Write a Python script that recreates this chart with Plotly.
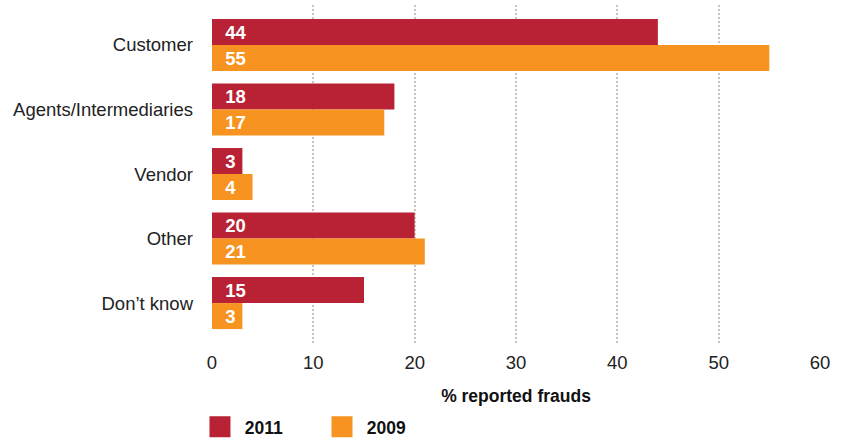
import plotly.graph_objects as go

categories = ["Customer", "Agents/Intermediaries", "Vendor", "Other", "Don\u2019t know"]
values_2011 = [44, 18, 3, 20, 15]
values_2009 = [55, 17, 4, 21, 3]
series_names = ["2011", "2009"]
colors = ["#B82234", "#F79320"]
x_ticks = [0, 10, 20, 30, 40, 50, 60]

FONT = "Liberation Sans, Arial, Helvetica, sans-serif"

fig = go.Figure()
for name, vals, col in zip(series_names, [values_2011, values_2009], colors):
    fig.add_trace(go.Bar(
        y=categories, x=vals, name=name, orientation="h",
        marker=dict(color=col, line=dict(width=0)),
        text=vals, texttemplate="&nbsp;&nbsp;%{x}",
        textposition="inside", insidetextanchor="start", constraintext="none",
        textangle=0,
        textfont=dict(family=FONT, size=18.5, color="white", weight="bold"),
        showlegend=False,
    ))
    fig.add_trace(go.Scatter(
        x=[None], y=[None], mode="markers", name="&nbsp;" + name,
        marker=dict(symbol="square", size=16, color=col, line=dict(color=col, width=5)),
        showlegend=True,
    ))

fig.update_layout(
    width=841, height=440,
    margin=dict(l=212, r=21, t=5, b=95, autoexpand=False),
    barmode="group", bargap=0.194, bargroupgap=0,
    plot_bgcolor="white", paper_bgcolor="white",
    font=dict(family=FONT, size=18.5, color="#222"),
    xaxis=dict(
        range=[0, 60], tickvals=x_ticks, ticktext=[str(t) for t in x_ticks],
        showgrid=True, gridcolor="#cbc4be", griddash="2px,2px", gridwidth=2,
        zeroline=False, showline=False, ticks="", ticklabelstandoff=4,
        title=dict(text="<b>% reported frauds</b>", font=dict(size=17.5, color="#111"), standoff=18),
    ),
    yaxis=dict(
        categoryorder="array", categoryarray=categories,
        range=[4.65, -0.62], showgrid=False, zeroline=False, showline=False,
        ticks="", ticklabelstandoff=18,
    ),
    legend=dict(
        orientation="h", xref="container", yref="container",
        x=0.2378, xanchor="left", y=0.03, yanchor="middle",
        font=dict(size=17.5, color="#111", weight="bold"),
        itemwidth=30, traceorder="normal", entrywidth=77,
    ),
)

fig.write_html("out.html", config={"displayModeBar": False},
               post_script="document.body.style.margin='0';")
